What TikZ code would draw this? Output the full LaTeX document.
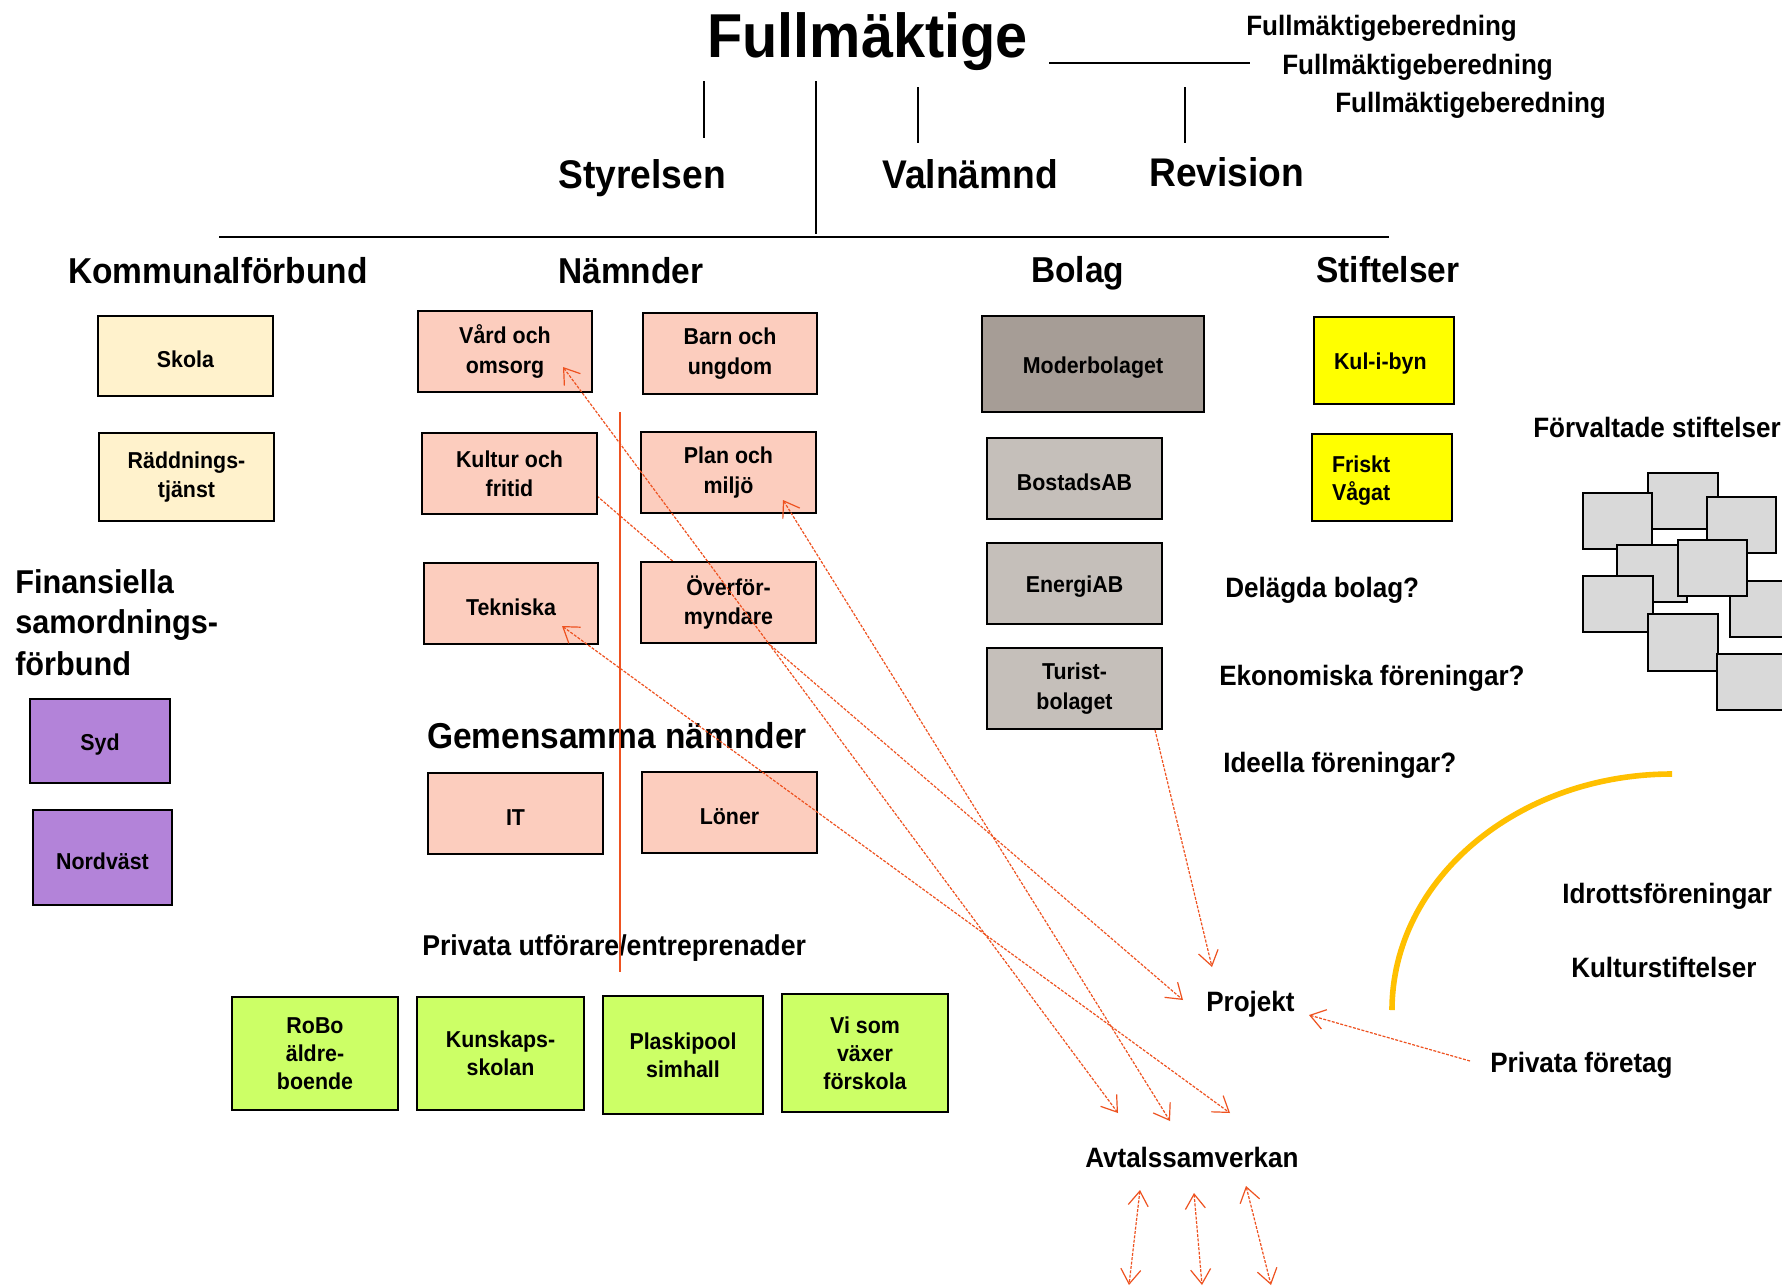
\documentclass[tikz,border=0pt]{standalone}
\usepackage{fontspec}
\setmainfont{Liberation Sans}[FakeStretch=0.93]
\usetikzlibrary{arrows.meta}
\definecolor{redc}{HTML}{EE5220}
\definecolor{cream}{HTML}{FFF2CC}
\definecolor{salmon}{HTML}{FCCDBE}
\definecolor{purp}{HTML}{B383D9}
\definecolor{taupe}{HTML}{A69D96}
\definecolor{ltaupe}{HTML}{C5BFBA}
\definecolor{yel}{HTML}{FFFF00}
\definecolor{lime}{HTML}{CCFF66}
\definecolor{lgray}{HTML}{D9D9D9}
\definecolor{gold}{HTML}{FFC000}
\begin{document}
\begin{tikzpicture}[x=0.75pt,y=-0.75pt,
  sz/.style 2 args={minimum width=#1*0.75pt, minimum height=#2*0.75pt},
  nbox/.style={draw=black, line width=1.9pt, inner sep=0pt, align=center, font=\fontsize{17.25}{21}\selectfont\bfseries, execute at begin node={\rule{0pt}{17.5pt}}},
  mlb/.style={font=\fontsize{17.25}{22}\selectfont\bfseries, execute at begin node={\rule{0pt}{19.5pt}}},
  lbl/.style={anchor=base west, inner sep=0pt, font=\fontsize{21}{25}\selectfont\bfseries},
  hd/.style={anchor=base west, inner sep=0pt, font=\fontsize{30}{36}\selectfont\bfseries},
  hdb/.style={anchor=base west, inner sep=0pt, font=\fontsize{27}{32}\selectfont\bfseries},
  blk/.style={line width=1.8pt, draw=black},
  barb/.tip={Straight Barb[length=11pt,width=15pt]},
  rarr/.style={draw=redc, line width=0.9pt, dash pattern=on 2.2pt off 1.1pt, -barb},
  rdbl/.style={draw=redc, line width=0.9pt, dash pattern=on 2.2pt off 1.1pt, barb-barb},
  grect/.style={fill=lgray, draw=black, line width=1.9pt}
]
\path[use as bounding box, fill=white] (0,0) rectangle (1782,1286);
\clip (0,0) rectangle (1782,1286);

% named coordinates
\coordinate (t1a) at (704,81);   \coordinate (t1b) at (704,138);
\coordinate (t2a) at (816,81);   \coordinate (t2b) at (816,234);
\coordinate (t3a) at (918,87);   \coordinate (t3b) at (918,143);
\coordinate (t4a) at (1185,87);  \coordinate (t4b) at (1185,143);
\coordinate (hza) at (1049,63);  \coordinate (hzb) at (1250,63);
\coordinate (bara) at (219,237); \coordinate (barb) at (1389,237);
\coordinate (vra) at (620,412);  \coordinate (vrb) at (620,972);
\coordinate (kulturOut) at (597,496);
\coordinate (projD) at (1183,1000);
\coordinate (projE) at (1212,967);
\coordinate (projF) at (1309,1015);
\coordinate (turOut) at (1155,730);
\coordinate (privOut) at (1470,1061);
\coordinate (vardTip) at (563,367);
\coordinate (planTip) at (783,500);
\coordinate (tekTip) at (562,626);
\coordinate (avA) at (1118,1113);
\coordinate (avB) at (1170,1121);
\coordinate (avC) at (1230,1113);
\coordinate (g1a) at (1140,1190); \coordinate (g1b) at (1129,1285);
\coordinate (g2a) at (1194,1193); \coordinate (g2b) at (1202,1285);
\coordinate (g3a) at (1246,1186); \coordinate (g3b) at (1271,1285);
\coordinate (arcB) at (1392,1010); \coordinate (arcT) at (1672,774);

% connector hidden behind Overformyndare
\draw[rarr] (kulturOut) -- (projD);

% title and headings
\node[anchor=base west, inner sep=0pt, font=\fontsize{46.5}{54}\selectfont\bfseries] (fullm) at (707,57) {Fullmäktige};
\node[lbl] (fb1) at (1246,35) {Fullmäktigeberedning};
\node[lbl] (fb2) at (1282,74) {Fullmäktigeberedning};
\node[lbl] (fb3) at (1335,112) {Fullmäktigeberedning};
\node[hd] (styr) at (558,188) {Styrelsen};
\node[hd] (valn) at (882,188) {Valnämnd};
\node[hd] (rev) at (1149,186) {Revision};

\draw[blk] (t1a) -- (t1b);
\draw[blk] (t2a) -- (t2b);
\draw[blk] (t3a) -- (t3b);
\draw[blk] (t4a) -- (t4b);
\draw[blk] (hza) -- (hzb);
\draw[line width=2.2pt] (bara) -- (barb);

\node[hdb] (kommf) at (68,283) {Kommunalförbund};
\node[hdb] (namnd) at (558,283) {Nämnder};
\node[hdb] (bolag) at (1031,282) {Bolag};
\node[hdb] (stift) at (1316,282) {Stiftelser};
\node[anchor=base west, inner sep=0pt, font=\fontsize{24.75}{30}\selectfont\bfseries] (fin1) at (15,593) {Finansiella};
\node[anchor=base west, inner sep=0pt, font=\fontsize{24.75}{30}\selectfont\bfseries] (fin2) at (15,633) {samordnings-};
\node[anchor=base west, inner sep=0pt, font=\fontsize{24.75}{30}\selectfont\bfseries] (fin3) at (15,675) {förbund};
\node[hdb] (gemn) at (427,748) {Gemensamma nämnder};
\node[anchor=base west, inner sep=0pt, font=\fontsize{21.5}{26}\selectfont\bfseries] (privu) at (422,955) {Privata utförare/entreprenader};

% Kommunalforbund
\node[nbox, fill=cream, sz={175}{80}] (skola) at (185.5,356) {Skola};
\node[nbox, mlb, fill=cream, sz={175}{88}] (radd) at (186.5,477) {Räddnings-\\tjänst};
% Finansiella
\node[nbox, fill=purp, sz={140}{84}] (syd) at (100,741) {Syd};
\node[nbox, fill=purp, sz={139}{95}] (nordv) at (102.5,857.5) {Nordväst};
% Namnder
\node[nbox, mlb, fill=salmon, sz={174}{81}] (vard) at (505,351.5) {Vård och\\omsorg};
\node[nbox, mlb, fill=salmon, sz={174}{81}] (barn) at (730,353.5) {Barn och\\ungdom};
\node[nbox, mlb, fill=salmon, sz={175}{81}] (kultur) at (509.5,473.5) {Kultur och\\fritid};
\node[nbox, mlb, fill=salmon, sz={175}{81}] (plan) at (728.5,472.5) {Plan och\\miljö};
\node[nbox, fill=salmon, sz={174}{81}] (tekn) at (511,603.5) {Tekniska};
\node[nbox, mlb, fill=salmon, sz={175}{81}] (overf) at (728.5,602.5) {Överför-\\myndare};
\node[nbox, fill=salmon, sz={175}{81}] (it) at (515.5,813.5) {IT};
\node[nbox, fill=salmon, sz={175}{81}] (loner) at (729.5,812.5) {Löner};
% Bolag
\node[nbox, fill=taupe, sz={222}{96}] (moder) at (1093,364) {Moderbolaget};
\node[nbox, fill=ltaupe, sz={175}{81}] (bostad) at (1074.5,478.5) {BostadsAB};
\node[nbox, fill=ltaupe, sz={175}{81}] (energi) at (1074.5,583.5) {EnergiAB};
\node[nbox, mlb, fill=ltaupe, sz={175}{81}] (turist) at (1074.5,688.5) {Turist-\\bolaget};
% Stiftelser
\node[nbox, fill=yel, sz={140}{87}, align=left, text width=75pt] (kulibyn) at (1384,360.5) {Kul-i-byn};
\node[nbox, fill=yel, sz={140}{87}, align=left, text width=75pt] (friskt) at (1382,477.5) {Friskt\\Vågat};
% Privata utforare
\node[nbox, fill=lime, sz={166}{113}] (robo) at (315,1053.5) {RoBo\\äldre-\\boende};
\node[nbox, fill=lime, sz={167}{113}] (kunsk) at (500.5,1053.5) {Kunskaps-\\skolan};
\node[nbox, fill=lime, sz={160}{118}] (plaski) at (683,1055) {Plaskipool\\simhall};
\node[nbox, fill=lime, sz={166}{118}] (visom) at (865,1053) {Vi som\\växer\\förskola};

% right side labels
\node[lbl] (forv) at (1533,437) {Förvaltade stiftelser};
\node[lbl] (delagda) at (1225,597) {Delägda bolag?};
\node[lbl] (ekon) at (1219,685) {Ekonomiska föreningar?};
\node[lbl] (ideella) at (1223,772) {Ideella föreningar?};
\node[lbl] (idrott) at (1562,903) {Idrottsföreningar};
\node[lbl] (kultst) at (1571,977) {Kulturstiftelser};
\node[lbl] (privf) at (1490,1072) {Privata företag};
\node[lbl] (projekt) at (1206,1011) {Projekt};
\node[lbl] (avtal) at (1085,1167) {Avtalssamverkan};

% managed foundations stack
\draw[grect] (1648,473) rectangle (1718,529);
\draw[grect] (1583,493) rectangle (1652,549);
\draw[grect] (1707,497) rectangle (1776,553);
\draw[grect] (1617,545) rectangle (1687,602);
\draw[grect] (1730,581) rectangle (1800,637);
\draw[grect] (1678,540) rectangle (1747,596);
\draw[grect] (1583,576) rectangle (1653,632);
\draw[grect] (1648,614) rectangle (1718,671);
\draw[grect] (1717,654) rectangle (1787,710);

% gold arc
\draw[gold, line width=4.2pt] (arcB) .. controls (1392,880) and (1517,774) .. (arcT);

% red vertical line
\draw[redc, line width=1.1pt] (vra) -- (vrb);

% dashed connectors
\draw[rdbl] (vardTip) -- (avA);
\draw[rdbl] (planTip) -- (avB);
\draw[rdbl] (tekTip) -- (avC);
\draw[rarr] (turOut) -- (projE);
\draw[rarr] (privOut) -- (projF);
\draw[rdbl] (g1a) -- (g1b);
\draw[rdbl] (g2a) -- (g2b);
\draw[rdbl] (g3a) -- (g3b);
\end{tikzpicture}
\end{document}
